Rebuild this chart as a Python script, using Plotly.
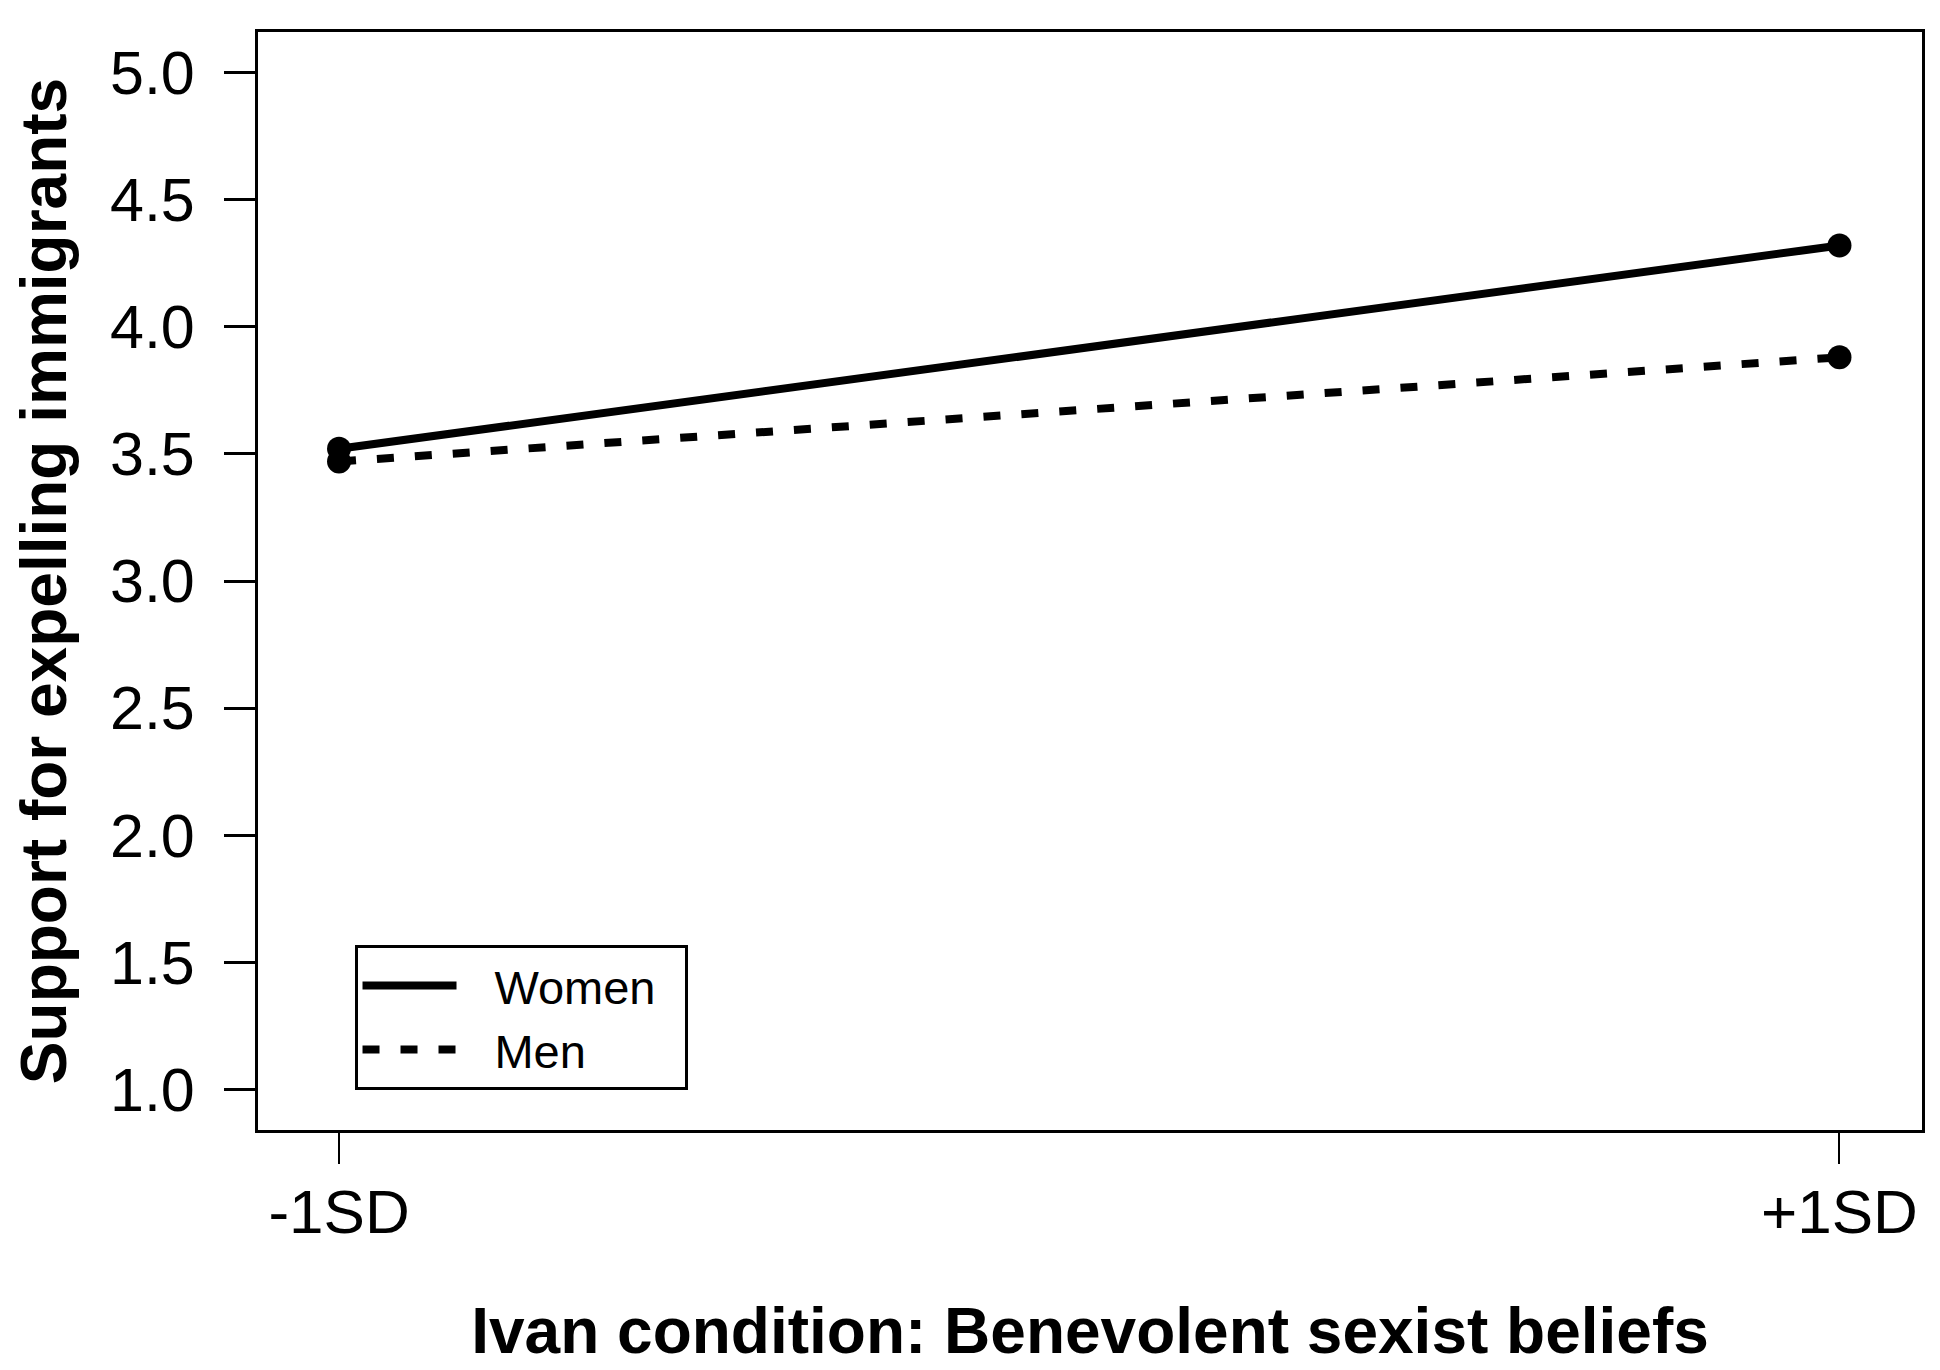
import plotly.graph_objects as go

x_labels = ["-1SD", "+1SD"]
x_pos = [0, 1]
women = [3.52, 4.32]
men = [3.47, 3.88]
y_ticks = [1.0, 1.5, 2.0, 2.5, 3.0, 3.5, 4.0, 4.5, 5.0]
series_names = ["Women", "Men"]

FONT = "Liberation Sans, Arial, sans-serif"
PAD_L = "\u2002\u2009"
PAD_R = "\u2002"

fig = go.Figure()
fig.add_trace(go.Scatter(
    x=x_pos, y=women, name=PAD_L + series_names[0] + PAD_R, mode="lines",
    line=dict(color="black", width=8),
))
fig.add_trace(go.Scatter(
    x=x_pos, y=men, name=PAD_L + series_names[1] + PAD_R, mode="lines",
    line=dict(color="black", width=8, dash="17px,21px"),
))
fig.add_trace(go.Scatter(
    x=x_pos, y=women, mode="markers", showlegend=False,
    marker=dict(color="black", size=24, symbol="circle"),
))
fig.add_trace(go.Scatter(
    x=x_pos, y=men, mode="markers", showlegend=False,
    marker=dict(color="black", size=24, symbol="circle"),
))

fig.update_layout(
    width=1940, height=1370,
    margin=dict(l=250, r=26, t=24, b=248),
    paper_bgcolor="white", plot_bgcolor="white",
    font=dict(family=FONT, color="black", size=60),
    showlegend=True,
    legend=dict(
        x=0.058, y=0.036, xanchor="left", yanchor="bottom",
        bordercolor="black", borderwidth=3, bgcolor="white",
        font=dict(size=47, family=FONT),
        itemwidth=94, tracegroupgap=0,
    ),
)
fig.update_xaxes(
    range=[-0.054, 1.055], tickmode="array", tickvals=x_pos, ticktext=x_labels,
    showline=True, linecolor="black", linewidth=3, mirror=True,
    ticks="outside", ticklen=31, tickwidth=2, tickcolor="black",
    showgrid=False, zeroline=False,
    tickfont=dict(size=62), ticklabelstandoff=-5,
    title=dict(text="<b>Ivan condition: Benevolent sexist beliefs</b>",
               font=dict(size=64), standoff=63),
)
fig.update_yaxes(
    range=[0.84, 5.16], tickmode="array", tickvals=y_ticks,
    ticktext=[f"{v:.1f}" for v in y_ticks],
    showline=True, linecolor="black", linewidth=3, mirror=True,
    ticks="outside", ticklen=31, tickwidth=3, tickcolor="black",
    showgrid=False, zeroline=False,
    tickfont=dict(size=61), ticklabelstandoff=17,
    title=dict(text="<b>Support for expelling immigrants</b>",
               font=dict(size=64), standoff=26),
)

fig.write_html("out.html")
